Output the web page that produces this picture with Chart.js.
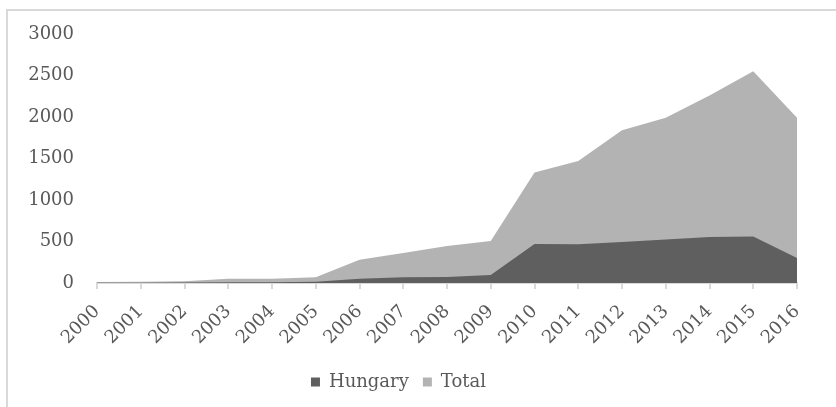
<!DOCTYPE html>
<html lang="en">
<head>
    <meta charset="UTF-8">
    <title>Hungary and Total, 2000-2016</title>
    <script src="https://cdn.jsdelivr.net/npm/chart.js"></script>
    <style>
        html, body {
            margin: 0;
            padding: 0;
            background: #ffffff;
            overflow: hidden;
        }
        #frame {
            position: absolute;
            left: 6px;
            top: 9px;
            width: 850px;
            height: 420px;
            border: 2px solid #d9d9d9;
            box-sizing: border-box;
        }
        #chartContainer {
            position: absolute;
            left: 0;
            top: 0;
            width: 836px;
            height: 407px;
        }
    </style>
</head>
<body>
    <div id="frame"></div>
    <div id="chartContainer">
        <canvas id="areaChart"></canvas>
    </div>

    <script>
        const years = ['2000', '2001', '2002', '2003', '2004', '2005', '2006', '2007', '2008',
                       '2009', '2010', '2011', '2012', '2013', '2014', '2015', '2016'];
        const hungary = [3, 3, 5, 10, 10, 15, 50, 70, 72, 95, 470, 468, 495, 525, 555, 560, 300];
        const total = [12, 14, 20, 50, 50, 70, 280, 360, 445, 505, 1330, 1470, 1840, 1990, 2260, 2550, 1990];
        const yTicks = [0, 500, 1000, 1500, 2000, 2500, 3000];

        const textColor = '#595959';
        const fontFamily = '"DejaVu Serif", "Liberation Serif", serif';

        const ctx = document.getElementById('areaChart').getContext('2d');

        new Chart(ctx, {
            type: 'line',
            data: {
                labels: years,
                datasets: [
                    {
                        label: 'Hungary',
                        data: hungary,
                        backgroundColor: '#5f5f5f',
                        borderColor: '#5f5f5f',
                        borderWidth: 0,
                        fill: 'origin',
                        pointRadius: 0,
                        tension: 0
                    },
                    {
                        label: 'Total',
                        data: total,
                        backgroundColor: '#b3b3b3',
                        borderColor: '#b3b3b3',
                        borderWidth: 0,
                        fill: 'origin',
                        pointRadius: 0,
                        tension: 0
                    }
                ]
            },
            options: {
                responsive: true,
                maintainAspectRatio: false,
                animation: false,
                layout: {
                    padding: { left: 0, right: 39, top: 34, bottom: 6 }
                },
                plugins: {
                    tooltip: { enabled: false },
                    legend: {
                        position: 'bottom',
                        labels: {
                            color: textColor,
                            font: { family: fontFamily, size: 18 },
                            boxWidth: 9,
                            boxHeight: 9,
                            padding: 14
                        }
                    }
                },
                scales: {
                    x: {
                        offset: false,
                        border: { display: true, color: '#d9d9d9', width: 2 },
                        grid: {
                            drawOnChartArea: false,
                            drawTicks: true,
                            tickLength: 6,
                            color: '#d9d9d9',
                            lineWidth: 2
                        },
                        ticks: {
                            color: textColor,
                            font: { family: fontFamily, size: 18 },
                            minRotation: 45,
                            maxRotation: 45,
                            autoSkip: false,
                            padding: 12
                        },
                        afterFit: (scale) => { scale.height = 76; }
                    },
                    y: {
                        min: 0,
                        max: 3000,
                        border: { display: false },
                        grid: { display: false, drawTicks: false },
                        afterBuildTicks: (scale) => {
                            scale.ticks = yTicks.map(v => ({ value: v }));
                        },
                        ticks: {
                            color: textColor,
                            font: { family: fontFamily, size: 18 },
                            padding: 23,
                            callback: (value) => String(value)
                        },
                        afterFit: (scale) => { scale.width = 97; }
                    }
                }
            }
        });
    </script>
</body>
</html>
